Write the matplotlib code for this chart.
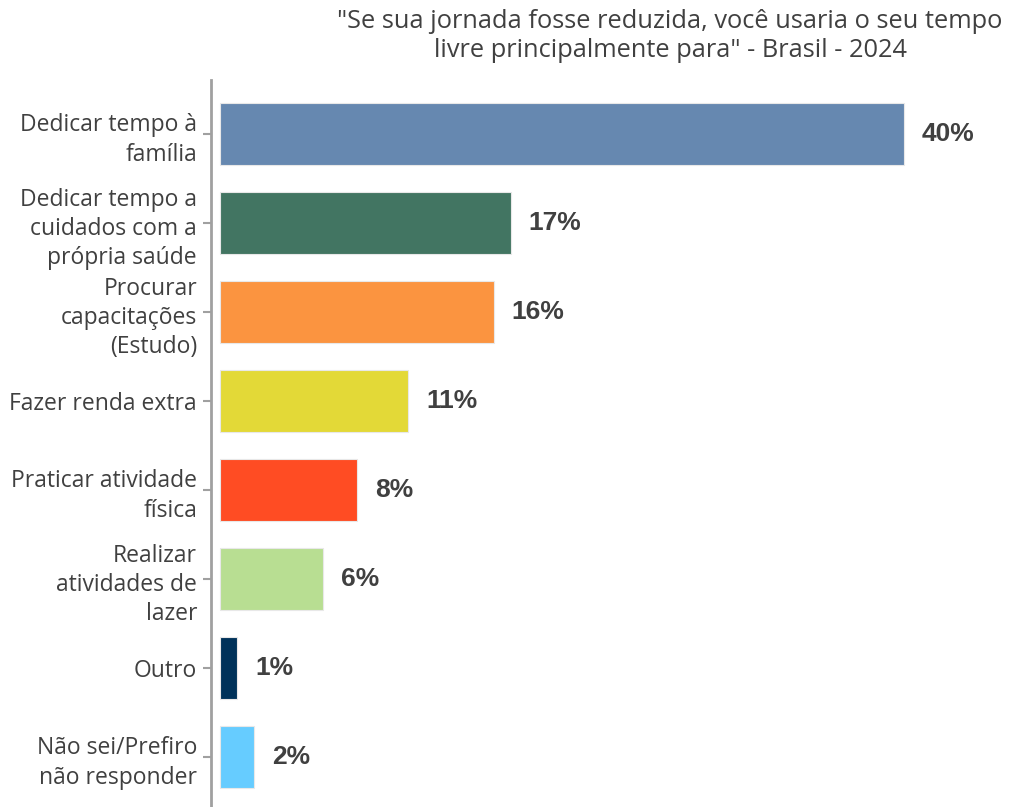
import matplotlib.pyplot as plt
import numpy as np

categories = [
    "Dedicar tempo à\nfamília",
    "Dedicar tempo a\ncuidados com a\nprópria saúde",
    "Procurar\ncapacitações\n(Estudo)",
    "Fazer renda extra",
    "Praticar atividade\nfísica",
    "Realizar\natividades de\nlazer",
    "Outro",
    "Não sei/Prefiro\nnão responder",
]
values = [40, 17, 16, 11, 8, 6, 1, 2]
colors = ["#6688B0", "#427562", "#FB9440", "#E3D937",
          "#FF4C23", "#B8DE92", "#00325A", "#66CCFF"]

title = '"Se sua jornada fosse reduzida, você usaria o seu tempo\nlivre principalmente para" - Brasil - 2024'

fig = plt.figure(figsize=(10.09, 8.07), dpi=100)
ax = fig.add_axes([211 / 1009, 0, (1005 - 211) / 1009, (807 - 80) / 807])

y = np.arange(len(categories))
ax.barh(y, values, height=0.7, color=colors, edgecolor="#e8e8e8", linewidth=0.8)

for yi, v in zip(y, values):
    ax.text(v + 1.05, yi, f"{v}%", va="center", ha="left",
            fontsize=19, fontweight="bold", color="#404040",
            family="Liberation Sans")

ax.set_yticks(y)
ax.set_yticklabels(categories, fontsize=16.5, color="#404040",
                   family="Open Sans", linespacing=1.3)
ax.set_ylim(7.56, -0.61)
ax.set_xlim(-0.53, 45.9)
ax.set_xticks([])

for s in ["top", "right", "bottom"]:
    ax.spines[s].set_visible(False)
ax.spines["left"].set_color("#a0a0a0")
ax.spines["left"].set_linewidth(2)
ax.tick_params(axis="y", length=6, width=1.5, color="#a0a0a0", pad=4)

fig.text(670 / 1009, 1 - 36 / 807, title, ha="center", va="center",
         fontsize=18.3, color="#404040", family="Open Sans", linespacing=1.26)

fig.savefig("out.png", dpi=100)
